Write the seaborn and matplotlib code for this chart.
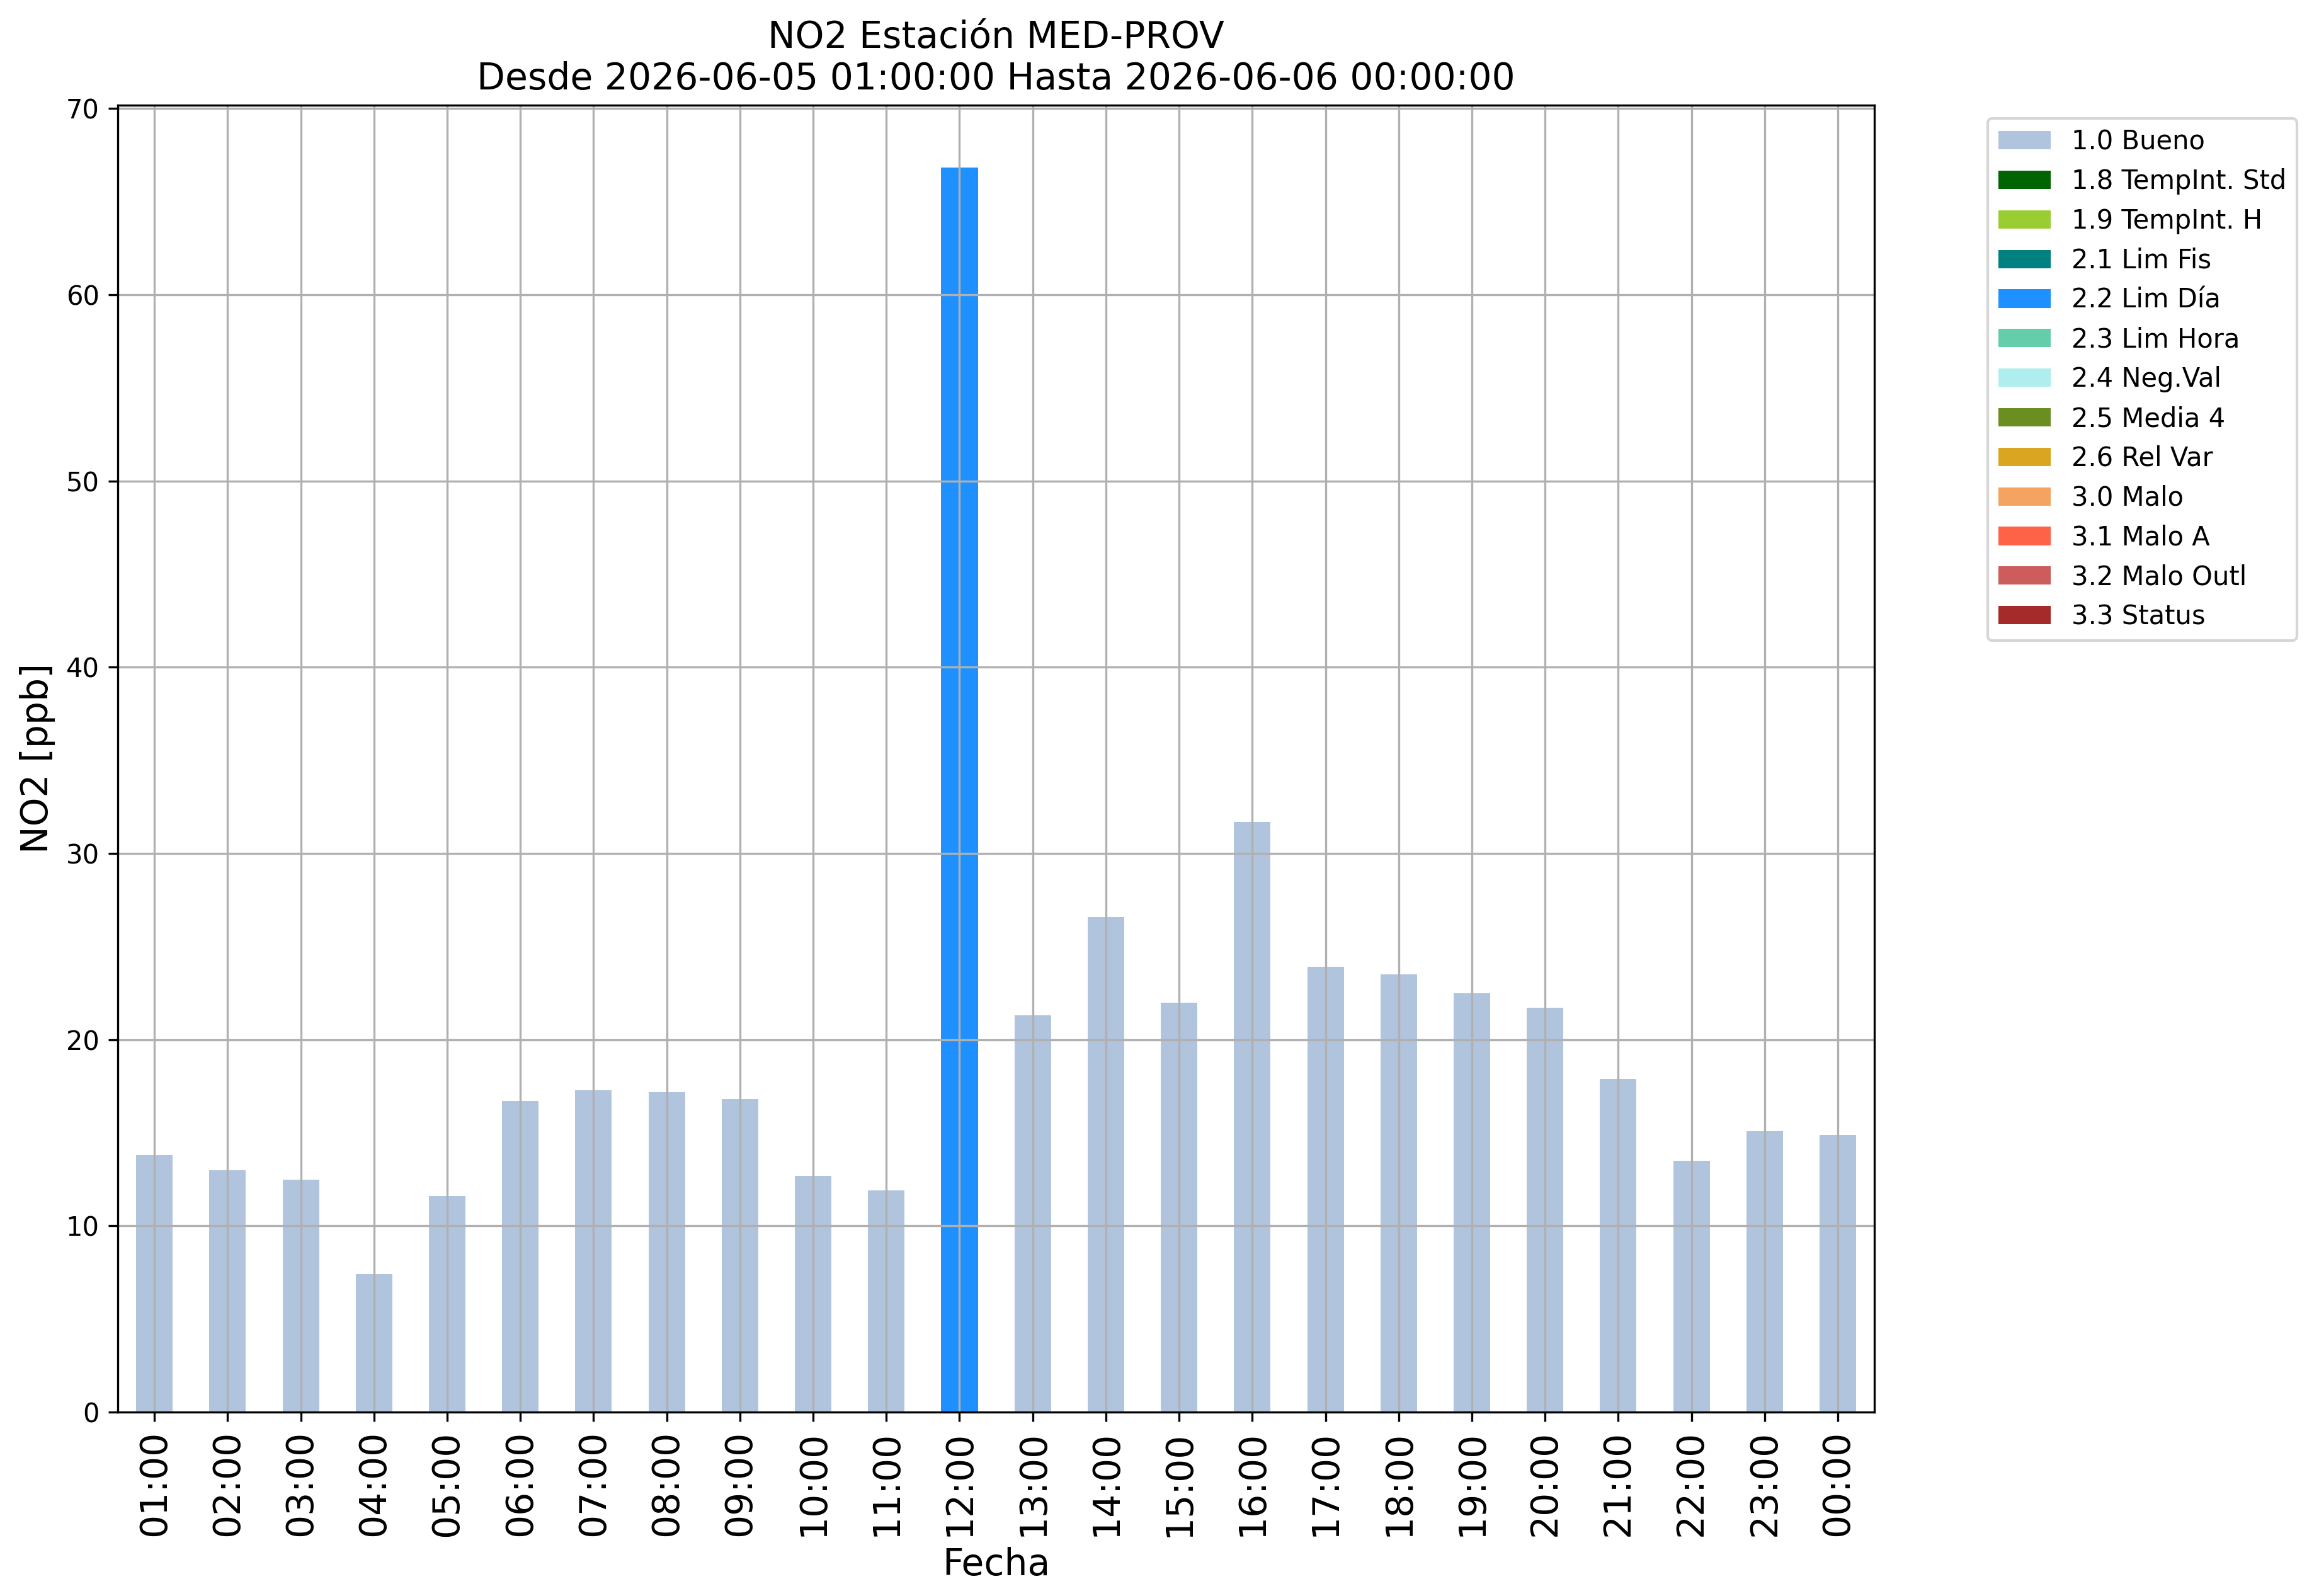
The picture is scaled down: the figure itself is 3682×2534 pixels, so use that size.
import pandas as pd
import numpy as np
import seaborn as sns
import matplotlib.pyplot as plt
from matplotlib.patches import Patch

# datos
horas = ["01:00", "02:00", "03:00", "04:00", "05:00", "06:00", "07:00", "08:00",
         "09:00", "10:00", "11:00", "12:00", "13:00", "14:00", "15:00", "16:00",
         "17:00", "18:00", "19:00", "20:00", "21:00", "22:00", "23:00", "00:00"]
no2 = [13.8, 13.0, 12.5, 7.4, 11.6, 16.7, 17.3, 17.2, 16.8, 12.7, 11.9, 66.85,
       21.3, 26.6, 22.0, 31.7, 23.9, 23.5, 22.5, 21.7, 17.9, 13.5, 15.1, 14.9]
flags = ["1.0 Bueno"] * 11 + ["2.2 Lim Día"] + ["1.0 Bueno"] * 12

categorias = ["1.0 Bueno", "1.8 TempInt. Std", "1.9 TempInt. H", "2.1 Lim Fis",
              "2.2 Lim Día", "2.3 Lim Hora", "2.4 Neg.Val", "2.5 Media 4",
              "2.6 Rel Var", "3.0 Malo", "3.1 Malo A", "3.2 Malo Outl", "3.3 Status"]
colores = ["lightsteelblue", "darkgreen", "yellowgreen", "teal", "dodgerblue",
           "mediumaquamarine", "paleturquoise", "olivedrab", "goldenrod",
           "sandybrown", "tomato", "indianred", "brown"]
paleta = dict(zip(categorias, colores))

df = pd.DataFrame({"Fecha": horas, "NO2": no2, "flag": flags})

fig = plt.figure(figsize=(3682 / 300, 2534 / 300), dpi=300)
ax = fig.add_axes([0.0508, 0.1152, 0.7575, 0.819])

sns.barplot(data=df, x="Fecha", y="NO2", hue="flag", order=horas,
            hue_order=categorias, palette=paleta, dodge=False, width=0.5,
            saturation=1, errorbar=None, legend=False, ax=ax)

ax.grid(True)
ax.set_axisbelow("line")
ax.set_xlabel("Fecha", fontsize=14)
ax.set_ylabel("NO2 [ppb]", fontsize=14)
ax.tick_params(axis="x", labelsize=14, labelrotation=90)
ax.tick_params(axis="y", labelsize=10)
ax.set_title("NO2 Estación MED-PROV\nDesde 2026-06-05 01:00:00 Hasta 2026-06-06 00:00:00",
             fontsize=14)

# leyenda con todas las categorias, aunque no aparezcan
handles = [Patch(facecolor=paleta[c], label=c) for c in categorias]
ax.legend(handles=handles, bbox_to_anchor=(1.057, 1), loc="upper left", fontsize=10)

fig.savefig("out.png", dpi=300)
